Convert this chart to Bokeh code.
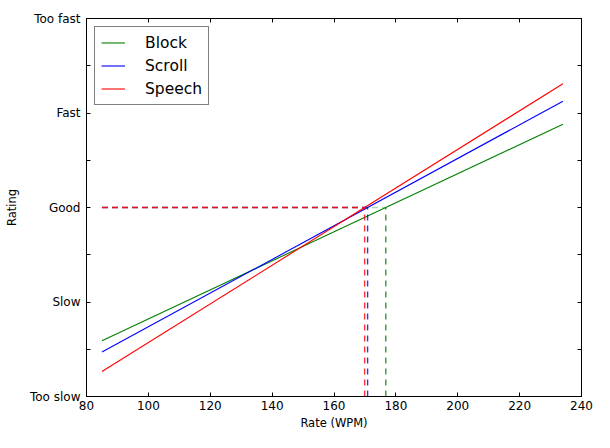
from bokeh.plotting import figure
from bokeh.models import Range1d, FixedTicker, LinearAxis, Legend, LegendItem
from bokeh.embed import file_html
from bokeh.resources import INLINE

# ---- data ----
series_names = ["Block", "Scroll", "Speech"]
series_colors = ["#008000", "#0000ff", "#ff0000"]
rate_x = [85, 234]
block_y = [1.59, 3.88]
scroll_y = [1.47, 4.125]
speech_y = [1.265, 4.31]
series_y = [block_y, scroll_y, speech_y]

x_ticks = [80, 100, 120, 140, 160, 180, 200, 220, 240]
rating_ticks = [1, 1.5, 2, 2.5, 3, 3.5, 4, 4.5, 5]
rating_labels = ["Too slow", "", "Slow", "", "Good", "", "Fast", "", "Too fast"]
good_level = 3
rating_min, rating_max = 1, 5
rate_min, rate_max = 80, 240

FONT = "DejaVu Sans"
h_dash_alpha = [0.3, 0.5, 0.85]   # overlapping horizontal guides blend like the original

p = figure(width=594, height=432, output_backend="svg", toolbar_location=None,
           x_range=Range1d(rate_min, rate_max), y_range=Range1d(rating_min, rating_max),
           min_border_left=86, min_border_top=18, min_border_right=13, min_border_bottom=35,
           x_axis_label="Rate (WPM)", y_axis_label="Rating")
p.grid.visible = False
p.outline_line_color = "black"
p.outline_line_width = 1
p.background_fill_color = "white"
p.border_fill_color = "white"

xt = FixedTicker(ticks=x_ticks)
yt = FixedTicker(ticks=rating_ticks)
overrides = {t: l for t, l in zip(rating_ticks, rating_labels)}

def style_axis(ax):
    ax.axis_line_color = "black"
    ax.major_tick_line_color = "black"
    ax.major_tick_in = 4
    ax.major_tick_out = 0
    ax.minor_tick_line_color = None
    ax.major_label_text_font = FONT
    ax.major_label_text_font_size = "12px"
    ax.major_label_text_color = "black"
    ax.axis_label_text_font = FONT
    ax.axis_label_text_font_size = "11.5px"
    ax.axis_label_text_font_style = "normal"
    ax.axis_label_text_color = "black"

xa = p.xaxis[0]
xa.ticker = xt
style_axis(xa)
xa.major_label_standoff = 4
xa.axis_label_standoff = 3

ya = p.yaxis[0]
ya.ticker = yt
ya.major_label_overrides = overrides
style_axis(ya)
ya.major_label_standoff = 6
ya.axis_label_standoff = 8

top = LinearAxis(ticker=xt)
style_axis(top)
top.major_label_overrides = {t: "" for t in x_ticks}
top.major_label_standoff = 0
p.add_layout(top, "above")

right = LinearAxis(ticker=yt)
style_axis(right)
right.major_label_overrides = {t: "" for t in rating_ticks}
right.major_label_standoff = 0
p.add_layout(right, "right")

items = []
for name, color, ys in zip(series_names, series_colors, series_y):
    r = p.line(rate_x, ys, line_color=color, line_width=1.1)
    items.append(LegendItem(label=name, renderers=[r]))

# crossing points with the "Good" level, derived from each fitted line
for name, color, ys, ha in zip(series_names, series_colors, series_y, h_dash_alpha):
    slope = (ys[1] - ys[0]) / (rate_x[1] - rate_x[0])
    x_good = rate_x[0] + (good_level - ys[0]) / slope
    p.line([rate_x[0], x_good], [good_level, good_level], line_color=color,
           line_width=1.6, line_alpha=ha, line_dash="6 4")
    p.line([x_good, x_good], [rating_min, good_level], line_color=color,
           line_width=1.4, line_alpha=0.8, line_dash="6 5")

legend = Legend(items=items, location="top_left")
legend.label_text_font = FONT
legend.label_text_font_size = "15.5px"
legend.label_text_color = "black"
legend.border_line_color = "black"
legend.border_line_width = 1
legend.background_fill_alpha = 1
legend.glyph_width = 24
legend.glyph_height = 19
legend.label_height = 19
legend.label_standoff = 20
legend.spacing = 4
legend.padding = 6
legend.margin = 8
p.add_layout(legend)

open("out.html", "w").write(file_html(p, INLINE))
